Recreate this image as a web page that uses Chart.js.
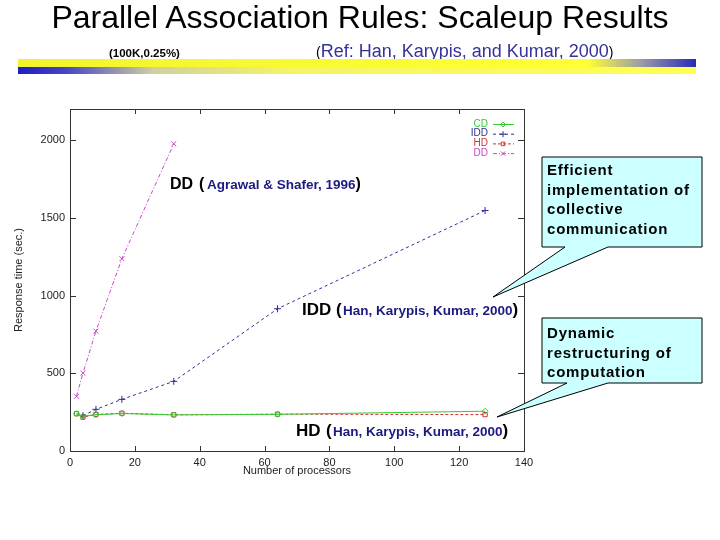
<!DOCTYPE html>
<html>
<head>
<meta charset="utf-8">
<script src="https://cdn.jsdelivr.net/npm/chart.js@4.4.1/dist/chart.umd.min.js"></script>
<style>
  body { margin: 0; background: #fff; }
  #page { position: relative; width: 720px; height: 540px; overflow: hidden; font-family: "Liberation Sans", Arial, sans-serif; }
  #chart { position: absolute; left: 0; top: 0; }
  #deco { position: absolute; left: 0; top: 0; }
</style>
</head>
<body>
<div id="page">
  <canvas id="chart" width="720" height="540"></canvas>
  <svg id="deco" width="720" height="540" xmlns="http://www.w3.org/2000/svg">
    <defs>
      <linearGradient id="barTop" x1="0" x2="1" y1="0" y2="0">
        <stop offset="0" stop-color="#f4f42e"/>
        <stop offset="0.84" stop-color="#ffff33"/>
        <stop offset="0.92" stop-color="#9a9aa8"/>
        <stop offset="1" stop-color="#2a2ab4"/>
      </linearGradient>
      <linearGradient id="barBottom" x1="0" x2="1" y1="0" y2="0">
        <stop offset="0" stop-color="#1e1ec4"/>
        <stop offset="0.07" stop-color="#4646c2"/>
        <stop offset="0.2" stop-color="#d0d0a0"/>
        <stop offset="0.4" stop-color="#f4f466"/>
        <stop offset="1" stop-color="#ffff50"/>
      </linearGradient>
    </defs>

    <!-- heading -->
    <text x="360" y="28" text-anchor="middle" font-size="32" fill="#000">Parallel Association Rules: Scaleup Results</text>
    <text x="109" y="57" font-size="11.5" font-weight="bold" fill="#000">(100K,0.25%)</text>
    <text x="316" y="57"><tspan font-size="14" fill="#000">(</tspan><tspan font-size="18" fill="#333399">Ref: Han, Karypis, and Kumar, 2000</tspan><tspan font-size="14" fill="#000">)</tspan></text>
    <rect x="18" y="59" width="678" height="8" fill="url(#barTop)"/>
    <rect x="18" y="67" width="678" height="7" fill="url(#barBottom)"/>

    <!-- series notes -->
    <text y="189" font-weight="bold"><tspan x="170" font-size="16" fill="#000">DD</tspan><tspan x="199" font-size="16" fill="#000">(</tspan><tspan x="207" font-size="13.5" fill="#1a1a80">Agrawal &amp; Shafer, 1996</tspan><tspan font-size="16" fill="#000">)</tspan></text>
    <text y="315" font-weight="bold"><tspan x="302" font-size="17" fill="#000">IDD</tspan><tspan x="336" font-size="17" fill="#000">(</tspan><tspan x="343" font-size="13.5" fill="#1a1a80">Han, Karypis, Kumar, 2000</tspan><tspan font-size="17" fill="#000">)</tspan></text>
    <text y="436" font-weight="bold"><tspan x="296" font-size="17" fill="#000">HD</tspan><tspan x="326" font-size="17" fill="#000">(</tspan><tspan x="333" font-size="13.5" fill="#1a1a80">Han, Karypis, Kumar, 2000</tspan><tspan font-size="17" fill="#000">)</tspan></text>

    <!-- callouts -->
    <path d="M542 157 H702 V247 H608 L493 297 L565 247 H542 Z" fill="#ccffff" stroke="#000" stroke-width="1"/>
    <text font-size="15" font-weight="bold" letter-spacing="0.8" fill="#000">
      <tspan x="547" y="175">Efficient</tspan>
      <tspan x="547" y="194.5">implementation of</tspan>
      <tspan x="547" y="214">collective</tspan>
      <tspan x="547" y="233.5">communication</tspan>
    </text>
    <path d="M542 318 H702 V383 H608 L497 417 L567 383 H542 Z" fill="#ccffff" stroke="#000" stroke-width="1"/>
    <text font-size="15" font-weight="bold" letter-spacing="0.8" fill="#000">
      <tspan x="547" y="338">Dynamic</tspan>
      <tspan x="547" y="357.5">restructuring of</tspan>
      <tspan x="547" y="377">computation</tspan>
    </text>
  </svg>
</div>
<script>
// number of processors and response time (sec.) per algorithm
const procsCD = [2, 4, 8, 16, 32, 64, 128];
const timeCD = [240, 225, 233, 241, 232, 236, 256];
const procsIDD = [4, 8, 16, 32, 64, 128];
const timeIDD = [227, 268, 332, 448, 915, 1547];
const procsHD = [2, 4, 8, 16, 32, 64, 128];
const timeHD = [240, 218, 235, 243, 233, 237, 234];
const procsDD = [2, 4, 8, 16, 32];
const timeDD = [352, 501, 771, 1237, 1976];

const xTicks = [0, 20, 40, 60, 80, 100, 120, 140];
const yTicks = [0, 500, 1000, 1500, 2000];

const zip = (xs, ys) => xs.map((x, i) => ({ x: x, y: ys[i] }));

const tickFont = { family: "'Liberation Sans', Arial, sans-serif", size: 11 };

// gnuplot-like frame, inward ticks and the small legend in the corner
const framePlugin = {
  id: 'frame',
  afterDatasetsDraw(chart) {
    const ctx = chart.ctx;
    const a = chart.chartArea;
    const xs = chart.scales.x;
    const ys = chart.scales.y;
    ctx.save();
    ctx.strokeStyle = '#333';
    ctx.lineWidth = 1;
    ctx.setLineDash([]);
    ctx.strokeRect(a.left + 0.5, a.top + 0.5, a.right - a.left, a.bottom - a.top);
    ctx.beginPath();
    xTicks.forEach(v => {
      const px = Math.round(xs.getPixelForValue(v)) + 0.5;
      ctx.moveTo(px, a.bottom); ctx.lineTo(px, a.bottom - 5);
      ctx.moveTo(px, a.top); ctx.lineTo(px, a.top + 5);
    });
    yTicks.forEach(v => {
      const py = Math.round(ys.getPixelForValue(v)) + 0.5;
      ctx.moveTo(a.left, py); ctx.lineTo(a.left + 6, py);
      ctx.moveTo(a.right, py); ctx.lineTo(a.right - 6, py);
    });
    ctx.stroke();

    // legend
    ctx.font = "10px 'Liberation Sans', Arial, sans-serif";
    ctx.textAlign = 'right';
    ctx.textBaseline = 'middle';
    chart.data.datasets.forEach((ds, i) => {
      const y = 124 + i * 9.7;
      ctx.fillStyle = ds.borderColor;
      ctx.fillText(ds.label, 488, y);
      ctx.strokeStyle = ds.borderColor;
      ctx.setLineDash(ds.borderDash || []);
      ctx.beginPath();
      ctx.moveTo(493, y + 0.5); ctx.lineTo(514, y + 0.5);
      ctx.stroke();
      ctx.setLineDash([]);
      ctx.fillStyle = 'rgba(0,0,0,0)';
      Chart.helpers.drawPoint(ctx, { pointStyle: ds.pointStyle, radius: ds.pointRadius - 0.5, borderWidth: 1 }, 503, y + 0.5);
    });
    ctx.restore();
  }
};

new Chart(document.getElementById('chart'), {
  type: 'line',
  data: {
    datasets: [
      { label: 'CD', data: zip(procsCD, timeCD), borderColor: '#33cc33', backgroundColor: 'transparent', borderWidth: 1, pointStyle: 'rectRot', pointRadius: 3 },
      { label: 'IDD', data: zip(procsIDD, timeIDD), borderColor: '#2e2e96', backgroundColor: 'transparent', borderWidth: 1, borderDash: [3, 3], pointStyle: 'cross', pointRadius: 3.5 },
      { label: 'HD', data: zip(procsHD, timeHD), borderColor: '#cc3333', backgroundColor: 'transparent', borderWidth: 1, borderDash: [3, 2], pointStyle: 'rect', pointRadius: 3 },
      { label: 'DD', data: zip(procsDD, timeDD), borderColor: '#cc44cc', backgroundColor: 'transparent', borderWidth: 1, borderDash: [4, 2, 1, 2], pointStyle: 'crossRot', pointRadius: 3.5 }
    ]
  },
  options: {
    responsive: false,
    animation: false,
    devicePixelRatio: 1,
    events: [],
    layout: { padding: { left: 8, top: 109, right: 196, bottom: 59 } },
    plugins: { legend: { display: false }, tooltip: { enabled: false } },
    scales: {
      x: {
        type: 'linear', min: 0, max: 140,
        grid: { display: false, drawTicks: false },
        border: { display: false },
        ticks: { stepSize: 20, padding: 5, font: tickFont, color: '#222', maxRotation: 0, callback: v => String(v) },
        title: { display: true, text: 'Number of processors', font: tickFont, color: '#222', padding: { top: 0, bottom: 3 } },
        afterFit: s => { s.height = 30; }
      },
      y: {
        type: 'linear', min: 0, max: 2200,
        grid: { display: false, drawTicks: false },
        border: { display: false },
        ticks: { stepSize: 500, padding: 5, font: tickFont, color: '#222', callback: v => String(v) },
        afterBuildTicks: s => { s.ticks = yTicks.map(v => ({ value: v })); },
        title: { display: true, text: 'Response time (sec.)', font: tickFont, color: '#222', padding: { top: 4, bottom: 0 } },
        afterFit: s => { s.width = 62; }
      }
    }
  },
  plugins: [framePlugin]
});
</script>
</body>
</html>
